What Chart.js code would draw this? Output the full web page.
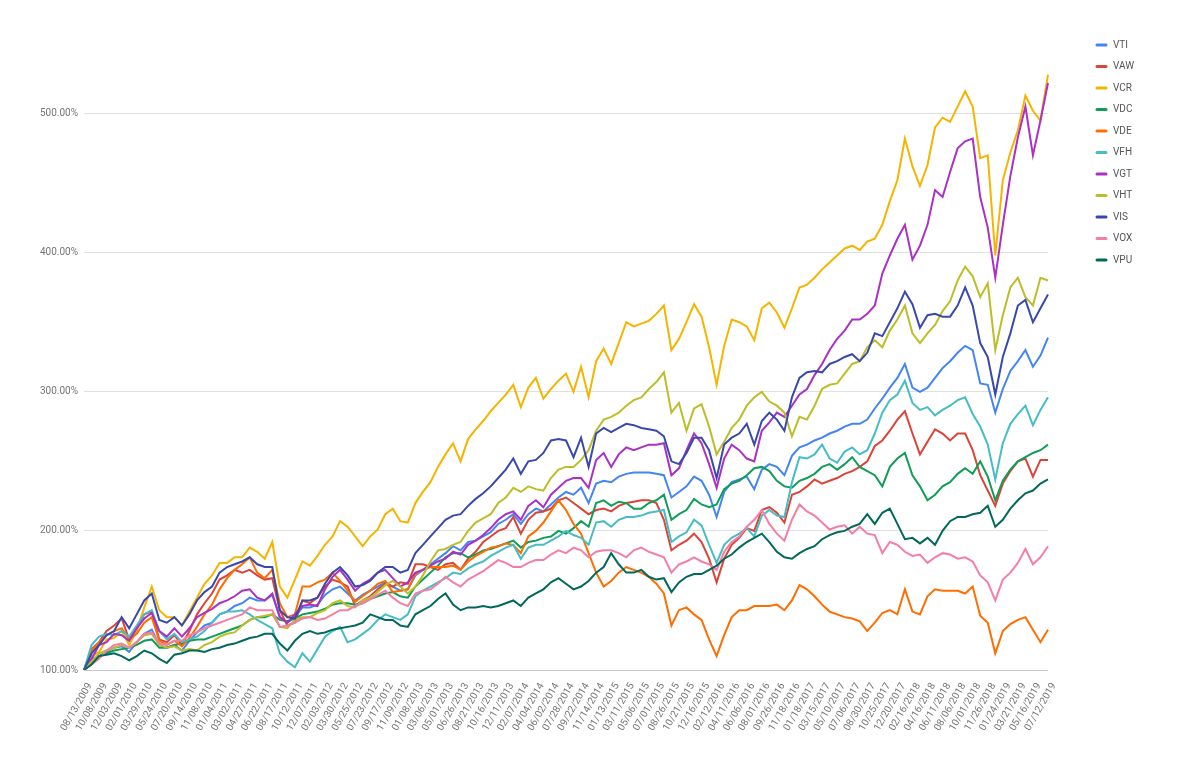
<!DOCTYPE html>
<html><head><meta charset="utf-8">
<script src="https://cdn.jsdelivr.net/npm/chart.js@4.4.1/dist/chart.umd.min.js"></script>
<style>html,body{margin:0;padding:0;background:#fff;}#wrap{width:1200px;height:774px;}</style>
</head><body><div id="wrap"><canvas id="c" width="1200" height="774"></canvas></div>
<script>
const tickLabels = ['08/13/2009','10/08/2009','12/03/2009','02/01/2010','03/29/2010','05/24/2010','07/20/2010','09/14/2010','11/08/2010','01/04/2011','03/02/2011','04/27/2011','06/22/2011','08/17/2011','10/12/2011','12/07/2011','02/03/2012','03/30/2012','05/25/2012','07/23/2012','09/17/2012','11/09/2012','01/08/2013','03/06/2013','05/01/2013','06/26/2013','08/21/2013','10/16/2013','12/11/2013','02/07/2014','04/04/2014','06/02/2014','07/28/2014','09/22/2014','11/14/2014','01/13/2015','03/11/2015','05/06/2015','07/01/2015','08/26/2015','10/21/2015','12/16/2015','02/12/2016','04/11/2016','06/06/2016','08/01/2016','09/26/2016','11/18/2016','01/18/2017','03/15/2017','05/10/2017','07/06/2017','08/30/2017','10/25/2017','12/20/2017','02/16/2018','04/16/2018','06/11/2018','08/06/2018','10/01/2018','11/26/2018','01/24/2019','03/21/2019','05/16/2019','07/12/2019'];

const seriesNames = ['VTI','VAW','VCR','VDC','VDE','VFH','VGT','VHT','VIS','VOX','VPU'];

const VTI = [100,108,110,113,116,117,113,120,126,129,
118,116,118,114,121,127,132,134,140,142,
146,148,152,150,150,154,138,134,138,145,
145,147,154,158,160,155,150,154,157,160,
163,160,157,158,168,172,176,180,184,189,
186,192,193,196,199,205,208,212,205,212,
216,214,219,224,228,226,231,220,234,236,
235,239,241,242,242,242,241,240,224,228,
232,239,236,226,210,228,235,237,239,230,
244,248,246,240,254,260,262,265,267,270,
272,275,277,277,280,288,295,303,310,320,
303,300,303,310,317,322,328,333,330,306,
305,285,302,315,322,330,318,326,339];

const VAW = [100,115,120,128,132,137,122,130,140,142,
122,120,125,118,128,140,148,155,165,168,
172,170,172,168,165,166,143,132,134,150,
148,152,160,165,163,160,146,150,153,158,
162,160,163,162,176,176,174,172,176,177,
172,180,185,192,196,200,202,210,198,208,
213,214,216,222,224,220,216,212,215,216,
214,218,220,221,222,222,220,208,186,190,
193,198,192,180,163,180,190,195,202,200,
215,217,213,206,226,228,232,237,234,236,
238,241,243,246,250,261,265,272,280,286,
270,255,264,273,270,265,270,270,258,240,
229,218,234,243,250,252,239,251,251];

const VCR = [100,110,113,122,123,128,118,128,145,160,
143,138,138,132,142,152,162,168,177,177,
181,181,188,185,180,192,160,152,165,178,
175,182,190,196,207,203,196,189,196,201,
212,216,207,206,220,228,235,246,255,263,
250,266,273,279,286,292,298,305,289,303,
310,295,302,308,313,300,318,296,322,331,
320,335,350,347,349,351,356,362,330,338,
350,363,354,332,305,333,352,350,347,337,
360,364,357,346,360,375,377,382,388,393,
398,403,405,402,408,410,420,437,452,482,
462,448,463,490,497,494,505,516,505,468,
470,398,452,472,488,513,502,495,528];

const VDC = [100,106,110,112,114,115,116,118,121,122,
116,116,118,119,121,122,122,124,126,128,
130,132,136,138,138,140,136,135,137,140,
141,142,144,147,148,148,147,148,151,153,
155,156,153,152,160,165,170,175,181,184,
184,181,183,186,187,189,191,193,188,192,
193,195,196,200,198,202,207,203,220,222,
218,221,220,216,216,220,222,226,208,212,
215,223,219,217,219,230,234,236,240,245,
246,243,236,232,231,236,238,241,246,248,
244,248,253,246,243,240,232,246,252,256,
240,232,222,226,232,235,241,245,241,250,
239,222,236,244,250,253,256,258,262];

const VDE = [100,114,120,125,128,130,122,126,134,138,
121,118,121,117,123,131,140,147,158,166,
172,176,181,170,166,172,148,138,140,160,
160,163,165,170,164,157,149,153,157,162,
164,156,157,158,169,172,174,174,174,175,
172,178,182,185,188,189,191,190,184,196,
200,206,214,222,215,205,198,184,170,160,
164,170,174,172,170,167,162,155,132,143,
145,140,136,122,110,125,138,143,143,146,
146,146,147,143,150,161,158,153,147,142,
140,138,137,135,128,134,141,143,140,158,
142,140,153,158,157,157,157,155,160,139,
134,112,128,133,136,138,129,120,129];

const VFH = [100,118,124,126,125,128,124,132,140,143,
128,122,126,120,122,124,128,134,140,142,
142,143,140,136,133,130,112,106,102,112,
106,115,124,128,131,120,122,126,130,136,
140,138,136,140,153,157,160,163,166,170,
169,173,176,178,182,185,188,190,180,188,
190,190,193,196,200,197,195,190,206,207,
203,208,210,210,211,213,214,215,192,196,
199,208,204,190,177,190,195,198,202,196,
211,215,211,210,235,253,252,255,262,252,
249,257,260,255,258,270,285,294,298,308,
292,287,289,283,287,290,294,296,284,275,
262,237,263,277,284,290,276,287,296];

const VGT = [100,108,118,120,126,125,121,130,137,141,
128,124,130,124,130,138,141,144,148,150,
153,157,158,152,150,155,138,134,140,146,
147,146,158,167,172,165,157,162,165,170,
172,166,160,163,170,172,175,178,180,185,
183,190,193,197,202,208,212,214,208,218,
222,217,226,231,236,238,238,231,251,256,
246,255,260,258,260,262,262,263,240,245,
258,270,263,248,231,252,262,258,252,250,
272,278,285,282,290,298,302,312,320,330,
338,344,352,352,356,362,385,398,410,420,
395,405,420,445,440,458,475,480,482,440,
418,382,420,455,483,505,470,495,522];

const VHT = [100,106,112,114,116,118,116,120,125,126,
118,116,117,114,115,114,118,120,124,126,
127,132,136,138,139,140,131,130,136,138,
138,141,143,148,150,146,145,150,152,156,
161,164,160,155,160,168,178,186,187,190,
192,200,206,209,212,220,224,231,228,232,
230,229,238,244,246,246,251,258,272,280,
282,285,290,294,296,302,307,314,285,292,
272,288,291,275,255,264,274,280,290,296,
300,293,290,285,268,282,280,290,302,305,
306,313,320,322,332,337,332,344,352,362,
342,335,342,348,358,365,380,390,383,368,
378,330,355,375,382,368,362,382,380];

const VIS = [100,112,118,125,128,138,130,140,150,155,
136,134,138,132,140,150,156,160,170,174,
176,178,181,176,174,174,143,138,137,150,
150,152,162,170,174,168,160,161,164,170,
174,174,170,172,184,190,196,202,208,211,
212,218,223,227,232,238,244,252,241,250,
251,256,265,266,265,253,267,246,270,274,
271,274,277,276,274,273,272,268,250,248,
256,267,267,258,238,262,267,270,277,262,
279,285,280,272,296,310,314,315,314,320,
322,325,327,322,328,342,340,350,360,372,
363,346,355,356,354,354,362,375,362,335,
325,298,325,342,362,366,350,360,370];

const VOX = [100,104,108,114,118,119,116,120,126,127,
119,118,121,121,125,127,130,132,134,136,
138,140,145,143,143,143,131,132,134,137,
138,136,137,140,143,143,146,148,151,154,
157,152,148,146,155,157,158,162,167,163,
160,165,168,171,175,179,177,174,174,177,
179,179,183,186,184,188,186,181,185,186,
186,184,181,186,188,185,183,181,170,176,
178,181,178,176,172,185,192,196,203,208,
215,205,198,193,208,219,214,211,206,201,
203,204,198,203,198,197,184,192,190,185,
182,183,177,181,184,183,180,181,178,168,
163,150,165,170,177,187,176,181,189];

const VPU = [100,104,110,111,112,110,107,110,114,112,
108,105,111,112,114,114,113,115,116,118,
119,121,123,124,126,126,119,114,121,126,
128,126,127,129,130,131,132,134,140,138,
136,136,132,131,140,143,146,151,155,147,
143,145,145,146,145,146,148,150,146,152,
155,158,163,166,162,158,160,164,170,174,
184,176,170,170,172,167,165,166,156,163,
167,169,169,172,175,180,183,188,192,195,
198,192,185,181,180,184,187,189,194,197,
199,200,203,205,212,205,213,216,205,194,
195,191,195,190,200,207,210,210,212,213,
218,203,208,216,222,227,229,234,237];

const seriesValues = [VTI, VAW, VCR, VDC, VDE, VFH, VGT, VHT, VIS, VOX, VPU];
const seriesColors = ['#4285F4','#DB4437','#F4B400','#0F9D58','#FF6D00','#46BDC6','#AB30C4','#BDBD2A','#3949AB','#F47FA6','#00695C'];

// two data points per labelled tick: the tick date, then an unlabelled point between ticks
const categories = [];
for (let i = 0; i < tickLabels.length; i++) {
  categories.push(tickLabels[i]);
  if (i < tickLabels.length - 1) categories.push('');
}

const datasets = seriesNames.map((name, i) => ({
  label: name,
  data: seriesValues[i],
  borderColor: seriesColors[i],
  backgroundColor: seriesColors[i],
  borderWidth: 2,
  pointRadius: 0,
  tension: 0,
  fill: false,
  order: seriesNames.length - i
}));

const sideLegend = {
  id: 'sideLegend',
  afterDraw(chart) {
    const ctx = chart.ctx;
    ctx.save();
    ctx.font = '10px Roboto';
    ctx.textBaseline = 'middle';
    ctx.textAlign = 'left';
    chart.data.datasets.forEach((ds, i) => {
      const y = 45 + i * 21.5;
      ctx.strokeStyle = ds.borderColor;
      ctx.lineWidth = 3;
      ctx.lineCap = 'round';
      ctx.beginPath();
      ctx.moveTo(1097, y);
      ctx.lineTo(1106, y);
      ctx.stroke();
      ctx.fillStyle = '#555555';
      ctx.fillText(ds.label, 1113, y);
    });
    ctx.restore();
  }
};

new Chart(document.getElementById('c'), {
  type: 'line',
  data: { labels: categories, datasets: datasets },
  options: {
    responsive: false,
    animation: false,
    layout: { padding: { top: 44, right: 152, left: 0, bottom: 0 } },
    plugins: { legend: { display: false }, tooltip: { enabled: false } },
    scales: {
      x: {
        type: 'category',
        offset: false,
        grid: { display: false, drawTicks: false },
        border: { display: false },
        ticks: {
          autoSkip: false, minRotation: 60, maxRotation: 60,
          color: '#757575', font: { family: 'Roboto', size: 10 },
          padding: 11, labelOffset: 6
        },
        afterFit(s) { s.height = 104; }
      },
      y: {
        min: 100, max: 550,
        grid: {
          drawTicks: false,
          color: (c) => (c.tick && c.tick.value === 100) ? '#c8c8c8' : '#e0e0e0',
          lineWidth: 1
        },
        border: { display: false },
        ticks: {
          stepSize: 100,
          callback: (v) => Number(v).toFixed(2) + '%',
          color: '#757575', font: { family: 'Roboto', size: 10 }, padding: 6
        },
        afterBuildTicks(s) { s.ticks = s.ticks.filter(t => t.value % 100 === 0); },
        afterFit(s) { s.width = 84; }
      }
    }
  },
  plugins: [sideLegend]
});
</script>
</body></html>
